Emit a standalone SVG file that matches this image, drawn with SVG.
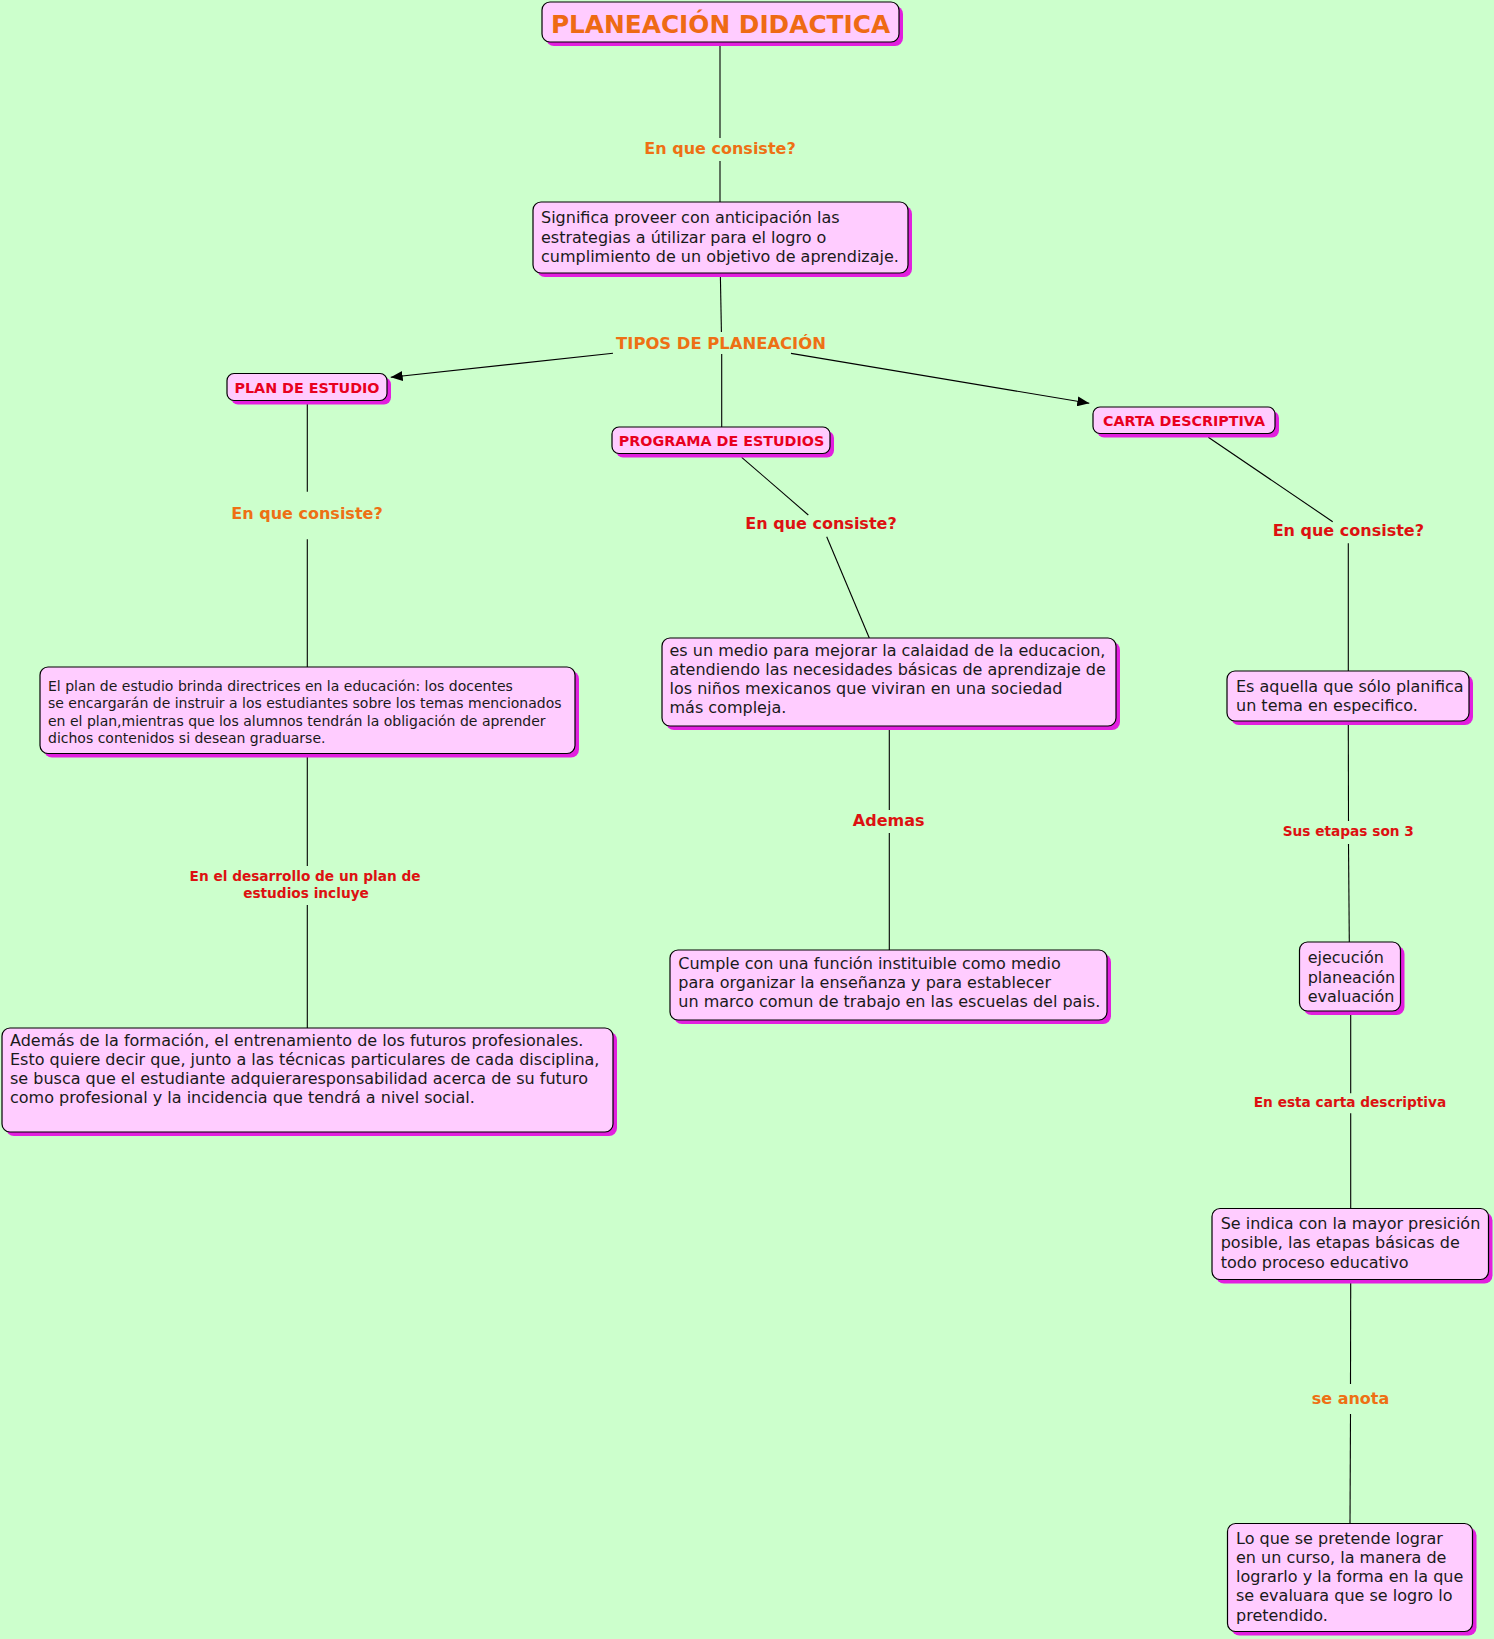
<svg xmlns="http://www.w3.org/2000/svg" width="1494" height="1639" viewBox="0 0 1494 1639">
<defs>
<style>
.bg{fill:#CCFFCC}
.sh{fill:#E21FDF}
.bx{fill:#FFCCFF;stroke:#000;stroke-width:1.2}
.t{font-family:"DejaVu Sans",Verdana,sans-serif;font-size:16px;fill:#1a1a1a}
.ts{font-family:"DejaVu Sans",Verdana,sans-serif;font-size:14px;fill:#1a1a1a}
.h{font-family:"DejaVu Sans",Verdana,sans-serif;font-weight:bold;font-size:14.3px;fill:#E8001E;text-anchor:middle}
.lo{font-family:"DejaVu Sans",Verdana,sans-serif;font-weight:bold;font-size:16px;fill:#EE7014;text-anchor:middle}
.lr{font-family:"DejaVu Sans",Verdana,sans-serif;font-weight:bold;font-size:16px;fill:#DD1111;text-anchor:middle}
.lrs{font-family:"DejaVu Sans",Verdana,sans-serif;font-weight:bold;font-size:13.7px;fill:#DD1111;text-anchor:middle}
.ln{stroke:#000;stroke-width:1.1;fill:none}
</style>
<marker id="arr" markerUnits="userSpaceOnUse" markerWidth="12" markerHeight="10" refX="12" refY="5" orient="auto">
<path d="M0,0 L12,5 L0,10 z" fill="#000"/>
</marker>
</defs>
<rect class="bg" x="0" y="0" width="1494" height="1639"/>

<g id="connectors">
<line class="ln" x1="720" y1="46" x2="720" y2="138"/>
<line class="ln" x1="720" y1="161" x2="720" y2="202"/>
<line class="ln" x1="720.4" y1="277" x2="721.4" y2="332"/>
<line class="ln" x1="721.7" y1="354" x2="721.7" y2="427"/>
<line class="ln" x1="613" y1="353.3" x2="390.7" y2="377.3" marker-end="url(#arr)"/>
<line class="ln" x1="791" y1="353.4" x2="1089.3" y2="403.3" marker-end="url(#arr)"/>
<line class="ln" x1="307.3" y1="404" x2="307.3" y2="491.7"/>
<line class="ln" x1="307.3" y1="539.3" x2="307.3" y2="667"/>
<line class="ln" x1="307.3" y1="757" x2="307.3" y2="866"/>
<line class="ln" x1="307.3" y1="905" x2="307.3" y2="1028"/>
<line class="ln" x1="741.7" y1="457.3" x2="808.3" y2="515"/>
<line class="ln" x1="826.7" y1="536.7" x2="869.3" y2="638"/>
<line class="ln" x1="889.3" y1="730" x2="889.3" y2="810"/>
<line class="ln" x1="889.3" y1="833" x2="889.3" y2="950"/>
<line class="ln" x1="1208.3" y1="437.3" x2="1332.7" y2="521.7"/>
<line class="ln" x1="1348.3" y1="543.3" x2="1348.3" y2="671"/>
<line class="ln" x1="1348.3" y1="725" x2="1348.5" y2="821"/>
<line class="ln" x1="1348.5" y1="844" x2="1349.3" y2="942"/>
<line class="ln" x1="1350.7" y1="1015" x2="1350.7" y2="1093.3"/>
<line class="ln" x1="1350.7" y1="1113.3" x2="1350.7" y2="1208.5"/>
<line class="ln" x1="1350.7" y1="1283" x2="1350.5" y2="1384"/>
<line class="ln" x1="1350.5" y1="1414" x2="1350" y2="1523.5"/>
</g>

<g id="labels">
<text class="lo" x="720" y="154">En que consiste?</text>
<text class="lo" x="721" y="349.3" style="font-size:16.4px">TIPOS DE PLANEACIÓN</text>
<text class="lo" x="307" y="519.3">En que consiste?</text>
<text class="lr" x="821" y="529.3">En que consiste?</text>
<text class="lr" x="1348.3" y="536">En que consiste?</text>
<text class="lrs" x="305" y="881">En el desarrollo de un plan de</text>
<text class="lrs" x="306" y="898">estudios incluye</text>
<text class="lr" x="888.7" y="826">Ademas</text>
<text class="lrs" x="1348.3" y="836">Sus etapas son 3</text>
<text class="lrs" x="1350" y="1106.7">En esta carta descriptiva</text>
<text class="lo" x="1350.5" y="1404">se anota</text>
</g>

<g id="n-title">
<rect class="sh" x="546" y="6" width="357" height="40" rx="8"/>
<rect class="bx" x="542" y="2" width="357" height="40" rx="8"/>
<text x="720.5" y="33.3" style="font-family:'DejaVu Sans',Verdana,sans-serif;font-weight:bold;font-size:24.8px;fill:#EE6A14;text-anchor:middle">PLANEACIÓN DIDACTICA</text>
</g>

<g id="n-significa">
<rect class="sh" x="537" y="206" width="375" height="71" rx="8"/>
<rect class="bx" x="533" y="202" width="375" height="71" rx="8"/>
<text class="t"><tspan x="541" y="223.3">Significa proveer con anticipación las</tspan><tspan x="541" y="242.6">estrategias a útilizar para el logro o</tspan><tspan x="541" y="261.9">cumplimiento de un objetivo de aprendizaje.</tspan></text>
</g>

<g id="n-plan">
<rect class="sh" x="231" y="377.5" width="160" height="27" rx="7"/>
<rect class="bx" x="227" y="373.5" width="160" height="27" rx="7"/>
<text class="h" x="307" y="392.7">PLAN DE ESTUDIO</text>
</g>

<g id="n-programa">
<rect class="sh" x="616" y="431" width="218" height="26.5" rx="7"/>
<rect class="bx" x="612" y="427" width="218" height="26.5" rx="7"/>
<text class="h" x="721.5" y="445.7">PROGRAMA DE ESTUDIOS</text>
</g>

<g id="n-carta">
<rect class="sh" x="1097" y="411" width="182" height="26.5" rx="7"/>
<rect class="bx" x="1093" y="407" width="182" height="26.5" rx="7"/>
<text class="h" x="1184" y="425.7">CARTA DESCRIPTIVA</text>
</g>

<g id="n-elplan">
<rect class="sh" x="44" y="671" width="535" height="86.5" rx="8"/>
<rect class="bx" x="40" y="667" width="535" height="86.5" rx="8"/>
<text class="ts"><tspan x="48" y="690.5">El plan de estudio brinda directrices en la educación: los docentes</tspan><tspan x="48" y="708">se encargarán de instruir a los estudiantes sobre los temas mencionados</tspan><tspan x="48" y="725.5">en el plan,mientras que los alumnos tendrán la obligación de aprender</tspan><tspan x="48" y="743">dichos contenidos si desean graduarse.</tspan></text>
</g>

<g id="n-esunmedio">
<rect class="sh" x="666" y="642" width="454" height="88" rx="8"/>
<rect class="bx" x="662" y="638" width="454" height="88" rx="8"/>
<text class="t"><tspan x="669.5" y="656">es un medio para mejorar la calaidad de la educacion,</tspan><tspan x="669.5" y="675">atendiendo las necesidades básicas de aprendizaje de</tspan><tspan x="669.5" y="694">los niños mexicanos que viviran en una sociedad</tspan><tspan x="669.5" y="713">más compleja.</tspan></text>
</g>

<g id="n-esaquella">
<rect class="sh" x="1231" y="675" width="242" height="50" rx="8"/>
<rect class="bx" x="1227" y="671" width="242" height="50" rx="8"/>
<text class="t"><tspan x="1236" y="691.7">Es aquella que sólo planifica</tspan><tspan x="1236" y="710.7">un tema en especifico.</tspan></text>
</g>

<g id="n-ademas">
<rect class="sh" x="6" y="1032" width="611" height="104" rx="8"/>
<rect class="bx" x="2" y="1028" width="611" height="104" rx="8"/>
<text class="t"><tspan x="10" y="1046">Además de la formación, el entrenamiento de los futuros profesionales.</tspan><tspan x="10" y="1065">Esto quiere decir que, junto a las técnicas particulares de cada disciplina,</tspan><tspan x="10" y="1084">se busca que el estudiante adquieraresponsabilidad acerca de su futuro</tspan><tspan x="10" y="1103">como profesional y la incidencia que tendrá a nivel social.</tspan></text>
</g>

<g id="n-cumple">
<rect class="sh" x="674" y="954" width="437" height="70" rx="8"/>
<rect class="bx" x="670" y="950" width="437" height="70" rx="8"/>
<text class="t"><tspan x="678.3" y="968.8">Cumple con una función instituible como medio</tspan><tspan x="678.3" y="988">para organizar la enseñanza y para establecer</tspan><tspan x="678.3" y="1007.2">un marco comun de trabajo en las escuelas del pais.</tspan></text>
</g>

<g id="n-ejecucion">
<rect class="sh" x="1303.5" y="946" width="101" height="69" rx="8"/>
<rect class="bx" x="1299.5" y="942" width="101" height="69" rx="8"/>
<text class="t"><tspan x="1307.7" y="963.3">ejecución</tspan><tspan x="1307.7" y="982.7">planeación</tspan><tspan x="1307.7" y="1001.7">evaluación</tspan></text>
</g>

<g id="n-seindica">
<rect class="sh" x="1216" y="1212.5" width="276.5" height="71" rx="8"/>
<rect class="bx" x="1212" y="1208.5" width="276.5" height="71" rx="8"/>
<text class="t"><tspan x="1220.7" y="1228.8">Se indica con la mayor presición</tspan><tspan x="1220.7" y="1248.3">posible, las etapas básicas de</tspan><tspan x="1220.7" y="1267.5">todo proceso educativo</tspan></text>
</g>

<g id="n-loque">
<rect class="sh" x="1231.5" y="1527.5" width="245" height="108" rx="8"/>
<rect class="bx" x="1227.5" y="1523.5" width="245" height="108" rx="8"/>
<text class="t"><tspan x="1236" y="1543.5">Lo que se pretende lograr</tspan><tspan x="1236" y="1562.7">en un curso, la manera de</tspan><tspan x="1236" y="1582">lograrlo y la forma en la que</tspan><tspan x="1236" y="1601.3">se evaluara que se logro lo</tspan><tspan x="1236" y="1620.5">pretendido.</tspan></text>
</g>
</svg>
